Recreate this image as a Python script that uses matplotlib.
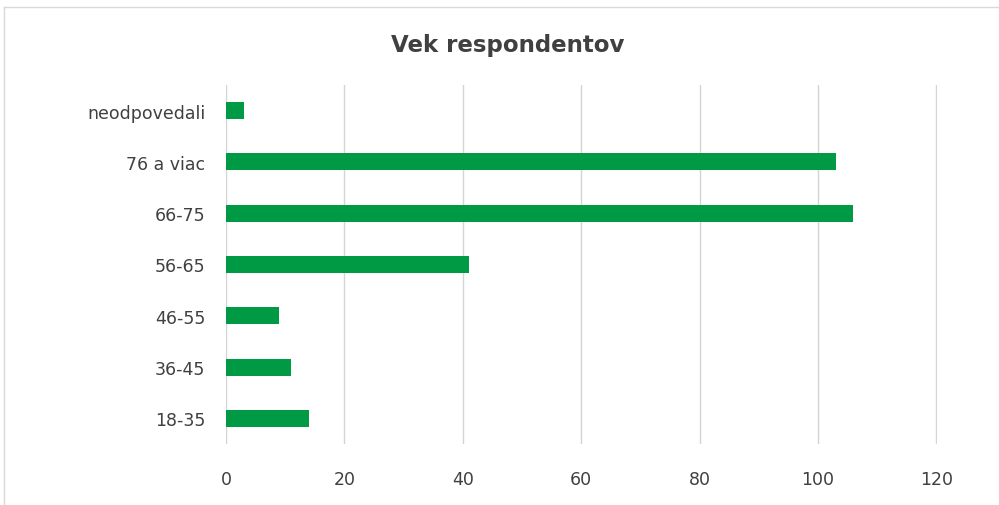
import matplotlib.pyplot as plt
from matplotlib.lines import Line2D

kategorie = ['18-35', '36-45', '46-55', '56-65', '66-75', '76 a viac', 'neodpovedali']
pocet = [14, 11, 9, 41, 106, 103, 3]
xticky = [0, 20, 40, 60, 80, 100, 120]

fig = plt.figure(figsize=(9.99, 5.06), dpi=100)
ax = fig.add_axes([0.2262, 0.1206, 0.7117, 0.7095])

ax.barh(range(len(kategorie)), pocet, height=0.33, color='#009944', zorder=3)

ax.set_xlim(0, 120.1)
ax.set_ylim(-0.5, len(kategorie) - 0.5)
ax.set_xticks(xticky)
ax.set_xticklabels([str(t) for t in xticky])
ax.set_yticks(range(len(kategorie)))
ax.set_yticklabels(kategorie)
ax.grid(axis='x', color='#d4d4d4', linewidth=1, zorder=0)
for s in ax.spines.values():
    s.set_visible(False)
ax.tick_params(axis='both', length=0, labelsize=12.5, labelcolor='#404040')
ax.tick_params(axis='y', pad=15)
ax.tick_params(axis='x', pad=19)

fig.text(0.508, 0.91, 'Vek respondentov', ha='center', va='center',
         fontsize=16.5, fontweight='bold', color='#404040')

# ramik grafu
fig.add_artist(Line2D([4/999, 1], [1 - 8/506, 1 - 8/506], transform=fig.transFigure,
                      color='#d9d9d9', linewidth=1))
fig.add_artist(Line2D([4/999, 4/999], [0, 1 - 8/506], transform=fig.transFigure,
                      color='#d9d9d9', linewidth=1))

fig.savefig('out.png', dpi=100, facecolor='white')
